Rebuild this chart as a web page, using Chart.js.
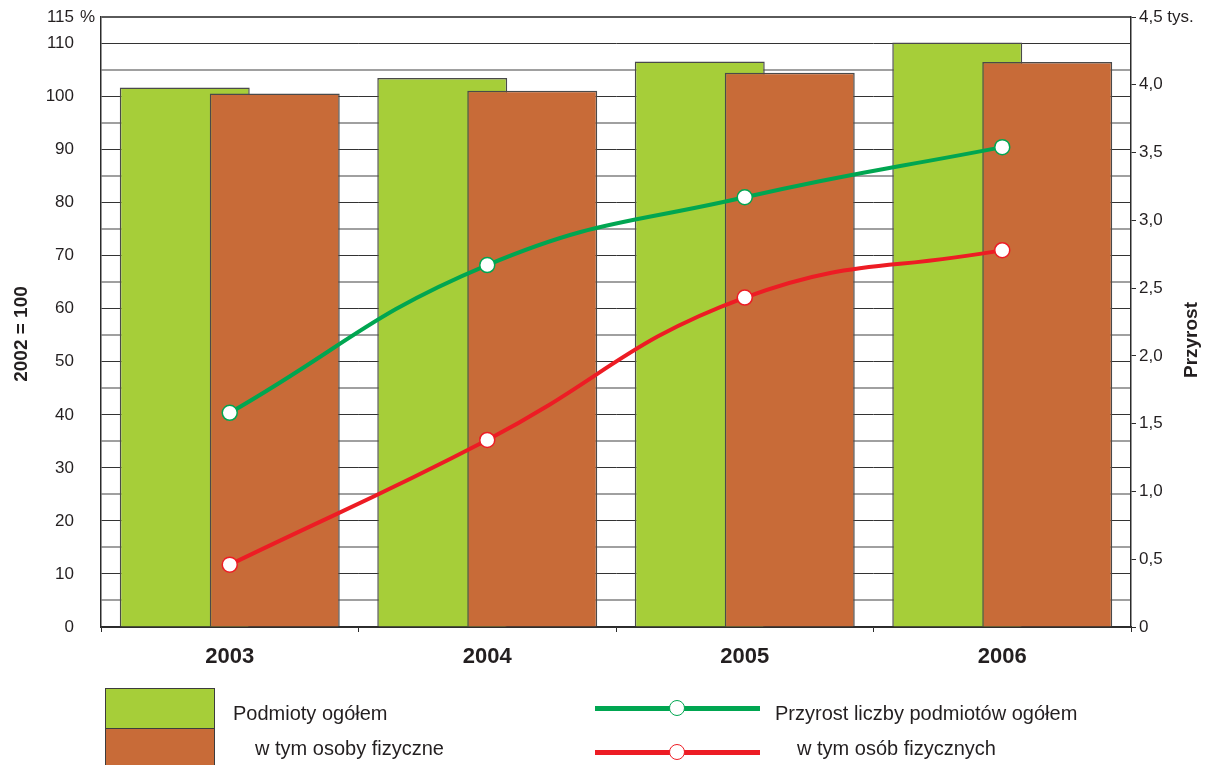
<!DOCTYPE html>
<html lang="pl">
<head>
<meta charset="utf-8">
<title>Podmioty gospodarki narodowej 2003-2006</title>
<script src="https://cdn.jsdelivr.net/npm/chart.js@4.4.1/dist/chart.umd.min.js"></script>
<style>
    html, body { margin: 0; padding: 0; background: #ffffff; }
    #wrap { position: relative; width: 1210px; height: 765px; overflow: hidden; font-family: "Liberation Sans", Arial, sans-serif; color: #231f20; }
    #chart { position: absolute; left: 0; top: 0; }
    .box { position: absolute; left: 105px; width: 110px; border: 1px solid #3c3c3c; box-sizing: border-box; }
    .leg-text { position: absolute; font-size: 20px; line-height: 24px; white-space: nowrap; }
    .leg-line { position: absolute; left: 595px; width: 165px; height: 5px; }
    .leg-dot { position: absolute; left: 669px; width: 16px; height: 16px; border-radius: 50%; background: #ffffff; box-sizing: border-box; border: 1.5px solid; }
</style>
</head>
<body>
<div id="wrap">
    <canvas id="chart" width="1210" height="765"></canvas>
    <div id="legend">
        <div class="box" style="top:688px;height:41px;background:#a6ce39"></div>
        <div class="box" style="top:728px;height:45px;background:#c86b38"></div>
        <div class="leg-text" style="left:233px;top:701px">Podmioty ogółem</div>
        <div class="leg-text" style="left:255px;top:736px">w tym osoby fizyczne</div>

        <div class="leg-line" style="top:706px;background:#00a651"></div>
        <div class="leg-dot" style="top:700px;border-color:#00a651"></div>
        <div class="leg-text" style="left:775px;top:701px">Przyrost liczby podmiotów ogółem</div>

        <div class="leg-line" style="top:750px;background:#ed1c24"></div>
        <div class="leg-dot" style="top:744px;border-color:#ed1c24"></div>
        <div class="leg-text" style="left:797px;top:736px">w tym osób fizycznych</div>
    </div>
</div>
<script>
// Data
const years = ['2003', '2004', '2005', '2006'];
const podmiotyOgolem = [101.7, 103.5, 106.6, 110.2];      // 2002 = 100
const osobyFizyczne = [100.6, 101.1, 104.5, 106.5];       // 2002 = 100
const przyrostOgolem = [1.58, 2.67, 3.17, 3.54];          // tys.
const przyrostOsoby = [0.46, 1.38, 2.43, 2.78];           // tys.

const textColor = '#231f20';
const axisColor = '#2b2b2b';
const greenBar = '#a6ce39';
const orangeBar = '#c86b38';
const greenLine = '#00a651';
const redLine = '#ed1c24';

// axis titles and the "%" next to 115 are drawn by hand
const extraText = {
    id: 'extraText',
    afterDraw(chart) {
        const ctx = chart.ctx;
        const yScale = chart.scales.y;
        ctx.save();
        ctx.fillStyle = textColor;
        ctx.textBaseline = 'middle';
        ctx.font = '17px "Liberation Sans", Arial, sans-serif';
        ctx.textAlign = 'left';
        ctx.fillText('%', 80, yScale.getPixelForValue(115));

        ctx.font = 'bold 19px "Liberation Sans", Arial, sans-serif';
        ctx.textAlign = 'center';
        ctx.save();
        ctx.translate(22, 334);
        ctx.rotate(-Math.PI / 2);
        ctx.fillText('2002 = 100', 0, 0);
        ctx.restore();

        ctx.save();
        ctx.translate(1192, 340);
        ctx.rotate(-Math.PI / 2);
        ctx.fillText('Przyrost', 0, 0);
        ctx.restore();
        ctx.restore();
    }
};

function formatTys(value) {
    if (value === 0) {
        return '0';
    }
    const label = value.toFixed(1).replace('.', ',');
    return value === 4.5 ? label + ' tys.' : label;
}

const barOptions = {
    borderColor: '#4a4a4a',
    borderWidth: 1.5,
    categoryPercentage: 0.699,
    barPercentage: 1.444
};

const lineOptions = {
    borderWidth: 4,
    pointRadius: 7.5,
    pointHoverRadius: 7.5,
    pointBorderWidth: 1.5,
    pointBackgroundColor: '#ffffff',
    tension: 0.45,
    yAxisID: 'y2',
    order: 0
};

const chart = new Chart(document.getElementById('chart'), {
    data: {
        labels: years,
        datasets: [
            Object.assign({
                type: 'bar',
                label: 'Podmioty ogółem',
                data: podmiotyOgolem,
                backgroundColor: greenBar,
                stack: 'a',
                order: 3
            }, barOptions),
            Object.assign({
                type: 'bar',
                label: 'w tym osoby fizyczne',
                data: osobyFizyczne,
                backgroundColor: orangeBar,
                stack: 'b',
                order: 2
            }, barOptions),
            // empty helper so the green bars keep the left slot while the orange ones are drawn over them
            Object.assign({
                type: 'bar',
                label: '',
                data: years.map(() => null),
                backgroundColor: 'rgba(0,0,0,0)',
                stack: 'a',
                order: 1
            }, barOptions, { borderWidth: 0 }),
            Object.assign({
                type: 'line',
                label: 'Przyrost liczby podmiotów ogółem',
                data: przyrostOgolem,
                borderColor: greenLine,
                pointBorderColor: greenLine
            }, lineOptions),
            Object.assign({
                type: 'line',
                label: 'w tym osób fizycznych',
                data: przyrostOsoby,
                borderColor: redLine,
                pointBorderColor: redLine
            }, lineOptions)
        ]
    },
    options: {
        responsive: false,
        animation: false,
        layout: {
            padding: { top: 17, left: 0, right: 0, bottom: 0 }
        },
        plugins: {
            legend: { display: false },
            title: { display: false },
            tooltip: { enabled: false }
        },
        scales: {
            x: {
                offset: true,
                afterFit: (scale) => { scale.height = 138; },
                grid: {
                    offset: true,
                    drawOnChartArea: false,
                    drawTicks: true,
                    tickLength: 5,
                    color: axisColor
                },
                border: { display: true, color: axisColor, width: 1.5 },
                ticks: {
                    color: textColor,
                    padding: 12,
                    font: { family: '"Liberation Sans", Arial, sans-serif', size: 22, weight: 'bold' }
                }
            },
            y: {
                position: 'left',
                min: 0,
                max: 115,
                stacked: false,
                afterFit: (scale) => {
                    scale.width = 101;
                    scale.paddingTop = 0;
                    scale.paddingBottom = 0;
                },
                grid: {
                    drawTicks: false,
                    color: (ctx) => {
                        const v = ctx.tick.value;
                        if (v === 115) return '#5a5a5a';
                        return v % 10 === 0 ? '#333333' : '#a0a0a0';
                    },
                    lineWidth: (ctx) => (ctx.tick.value % 10 === 0 ? 1 : 2)
                },
                border: { display: true, color: axisColor, width: 1.5 },
                ticks: {
                    stepSize: 5,
                    padding: 27,
                    color: textColor,
                    font: { family: '"Liberation Sans", Arial, sans-serif', size: 17 },
                    callback: (value) => (value % 10 === 0 || value === 115 ? String(value) : '')
                }
            },
            y2: {
                position: 'right',
                min: 0,
                max: 4.5,
                afterFit: (scale) => {
                    scale.width = 79;
                    scale.paddingTop = 0;
                    scale.paddingBottom = 0;
                },
                grid: {
                    drawOnChartArea: false,
                    drawTicks: true,
                    tickLength: 5,
                    color: axisColor
                },
                border: { display: true, color: axisColor, width: 1.5 },
                ticks: {
                    stepSize: 0.5,
                    padding: 3,
                    color: textColor,
                    font: { family: '"Liberation Sans", Arial, sans-serif', size: 17 },
                    callback: (value) => formatTys(value)
                }
            }
        }
    },
    plugins: [extraText]
});
</script>
</body>
</html>
